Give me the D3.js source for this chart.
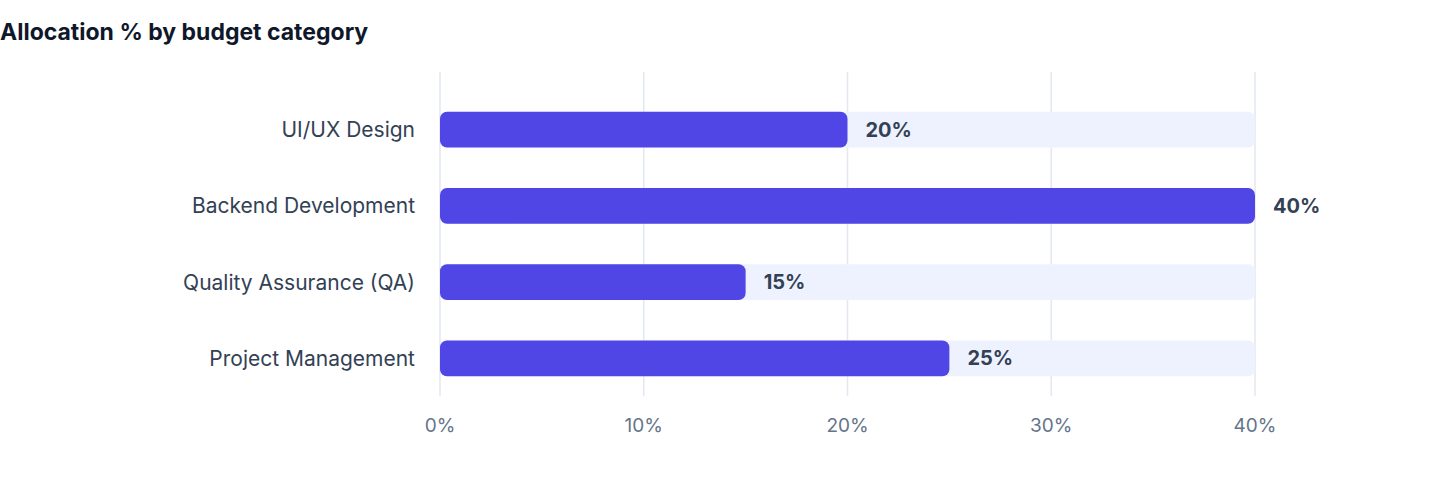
<!DOCTYPE html>
<html><head><meta charset="utf-8">
<script src="https://cdn.jsdelivr.net/npm/d3@7"></script>
<style>body{margin:0;background:#fff;font-family:Inter,"Open Sans",sans-serif}</style>
</head><body><div id="chart"></div>
<script>
var categories = ["UI/UX Design", "Backend Development", "Quality Assurance (QA)", "Project Management"];
var values = [20, 40, 15, 25];
var ticks = [0, 10, 20, 30, 40];

var svg = d3.select("#chart").append("svg").attr("width", 1440).attr("height", 484);

svg.append("text").attr("x", 0).attr("y", 40)
    .style("font-size", "23px").style("font-weight", "700").style("fill", "#0f172a")
    .text("Allocation % by budget category");

var x = d3.scaleLinear().domain([0, 40]).range([440, 1255]);
var y = d3.scaleBand().domain(categories).range([92, 396]).paddingInner(0.53).paddingOuter(0.26);

svg.selectAll(".grid").data(ticks).enter().append("line")
    .attr("x1", d => x(d)).attr("x2", d => x(d)).attr("y1", 72).attr("y2", 396)
    .style("stroke", "#e2e8f0").style("stroke-width", 1.5);

svg.selectAll(".track").data(categories).enter().append("rect")
    .attr("x", x(0)).attr("width", x(40) - x(0))
    .attr("y", d => y(d)).attr("height", y.bandwidth())
    .attr("rx", 7).style("fill", "#eef2ff");

svg.selectAll(".bar").data(values).enter().append("rect")
    .attr("x", x(0)).attr("width", d => x(d) - x(0))
    .attr("y", (d, i) => y(categories[i])).attr("height", y.bandwidth())
    .attr("rx", 7).style("fill", "#4f46e5");

svg.selectAll(".val").data(values).enter().append("text")
    .attr("x", d => x(d) + 18).attr("y", (d, i) => y(categories[i]) + y.bandwidth() / 2)
    .attr("dy", "0.36em").style("font-size", "20px").style("font-weight", "700").style("fill", "#334155")
    .text(d => d + "%");

svg.selectAll(".cat").data(categories).enter().append("text")
    .attr("x", 415).attr("y", d => y(d) + y.bandwidth() / 2).attr("dy", "0.36em")
    .style("text-anchor", "end").style("font-size", "21px").style("fill", "#334155")
    .text(d => d);

svg.selectAll(".tick").data(ticks).enter().append("text")
    .attr("x", d => x(d)).attr("y", 432).style("text-anchor", "middle")
    .style("font-size", "19px").style("fill", "#64748b")
    .text(d => d + "%");
</script></body></html>
